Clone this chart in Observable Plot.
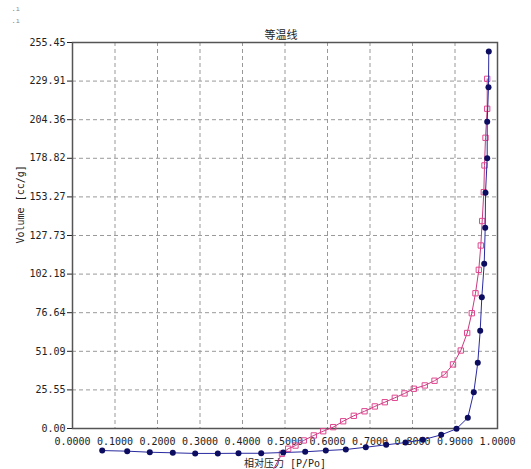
<!DOCTYPE html>
<html>
<head>
<meta charset="utf-8">
<script src="https://cdn.jsdelivr.net/npm/d3@7"></script>
<script src="https://cdn.jsdelivr.net/npm/@observablehq/plot@0.6"></script>
<style>
  html, body { margin: 0; padding: 0; background: #fff; }
</style>
</head>
<body>
<div id="chart"></div>
<script>
const titleText = "等温线";
const xLabel = "相对压力 [P/Po]";
const yLabel = "Volume [cc/g]";
const cornerMarks = [".ı", ".ı"];
const xTicks = [0, 0.1, 0.2, 0.3, 0.4, 0.5, 0.6, 0.7, 0.8, 0.9, 1.0];
const yTicks = [0, 25.55, 51.09, 76.64, 102.18, 127.73, 153.27, 178.82, 204.36, 229.91, 255.45];

// Adsorption branch (filled navy circles)
const adsP = [0.0699, 0.1287, 0.1819, 0.2360, 0.2887, 0.3419, 0.3906, 0.4440, 0.4958, 0.5475,
              0.5960, 0.6431, 0.6901, 0.7381, 0.7835, 0.8242, 0.8675, 0.9035, 0.9301, 0.9442,
              0.9536, 0.9593, 0.9631, 0.9687, 0.9711, 0.9718, 0.9758, 0.9758, 0.9788, 0.9795];
const adsV = [-14.6, -15.0, -15.7, -16.1, -16.5, -16.5, -16.4, -16.4, -15.9, -15.4,
              -14.6, -13.9, -12.4, -10.8, -9.3, -7.5, -4.2, -0.2, 7.1, 24.0,
              43.5, 64.7, 86.9, 109.0, 132.8, 156.0, 178.9, 203.0, 225.9, 249.5];

// Desorption branch (open pink squares)
const desP = [0.9758, 0.9758, 0.9718, 0.9694, 0.9678, 0.9640, 0.9607, 0.9560, 0.9482, 0.9395,
              0.9287, 0.9136, 0.8953, 0.8753, 0.8518, 0.8289, 0.8031, 0.7812, 0.7584, 0.7348,
              0.7113, 0.6871, 0.6619, 0.6369, 0.6134, 0.5899, 0.5678, 0.5442, 0.5247, 0.5075,
              0.4929, 0.4610];
const desV = [231.4, 211.6, 192.4, 174.1, 156.4, 137.3, 121.1, 105.0, 89.5, 76.3,
              63.2, 51.6, 42.4, 35.7, 31.6, 28.5, 26.3, 23.2, 20.3, 17.4,
              14.6, 11.4, 8.4, 4.8, 0.9, -1.8, -4.6, -7.9, -11.3, -13.4,
              -16.7, -33.0];

const ads = adsP.map((p, i) => ({p, v: adsV[i]}));
const des = desP.map((p, i) => ({p, v: desV[i]}));

const font = "'DejaVu Sans Mono', 'Noto Sans CJK SC', monospace";

const chart = Plot.plot({
  width: 531,
  height: 469,
  marginLeft: 72,
  marginRight: 34,
  marginTop: 42,
  marginBottom: 41,
  style: {fontFamily: font, fontSize: "10px", background: "#fff", color: "#222", overflow: "visible"},
  x: {domain: [0, 1]},
  y: {domain: [0, 255.45]},
  marks: [
    Plot.gridX(xTicks.slice(1, -1), {stroke: "#999", strokeOpacity: 1, strokeDasharray: "4,3"}),
    Plot.gridY(yTicks.slice(1, -1), {stroke: "#999", strokeOpacity: 1, strokeDasharray: "4,3"}),
    Plot.axisY({ticks: yTicks, tickSize: 5, tickPadding: 2, tickFormat: d => d.toFixed(2),
      label: null, fill: "#222"}),
    Plot.text([yLabel], {frameAnchor: "left", dx: -52, dy: 8, rotate: -90, fill: "#222"}),
    Plot.axisX({ticks: xTicks, tickSize: 0, tickPadding: 9, tickFormat: d => d.toFixed(4),
      label: xLabel, labelAnchor: "center", labelArrow: "none", labelOffset: 38, fill: "#222"}),
    Plot.frame({stroke: "#555", strokeWidth: 1.5}),
    Plot.text([titleText], {frameAnchor: "top", dy: -11, dx: -4, fontSize: 11, fill: "#222"}),
    Plot.text([cornerMarks[0]], {frameAnchor: "top-left", dx: -61, dy: -36, fontSize: 7, fill: "#888"}),
    Plot.text([cornerMarks[1]], {frameAnchor: "top-left", dx: -61, dy: -24, fontSize: 7, fill: "#888"}),
    Plot.line(des, {x: "p", y: "v", stroke: "#c83a80", strokeWidth: 1}),
    Plot.dot(des, {x: "p", y: "v", symbol: "square", r: 3, stroke: "#e0468e", strokeWidth: 1, fill: "none"}),
    Plot.line(ads, {x: "p", y: "v", stroke: "#2a2aa0", strokeWidth: 1}),
    Plot.dot(ads, {x: "p", y: "v", r: 3, fill: "#0c0c60", stroke: "none"})
  ]
});
document.getElementById("chart").appendChild(chart);
</script>
</body>
</html>
